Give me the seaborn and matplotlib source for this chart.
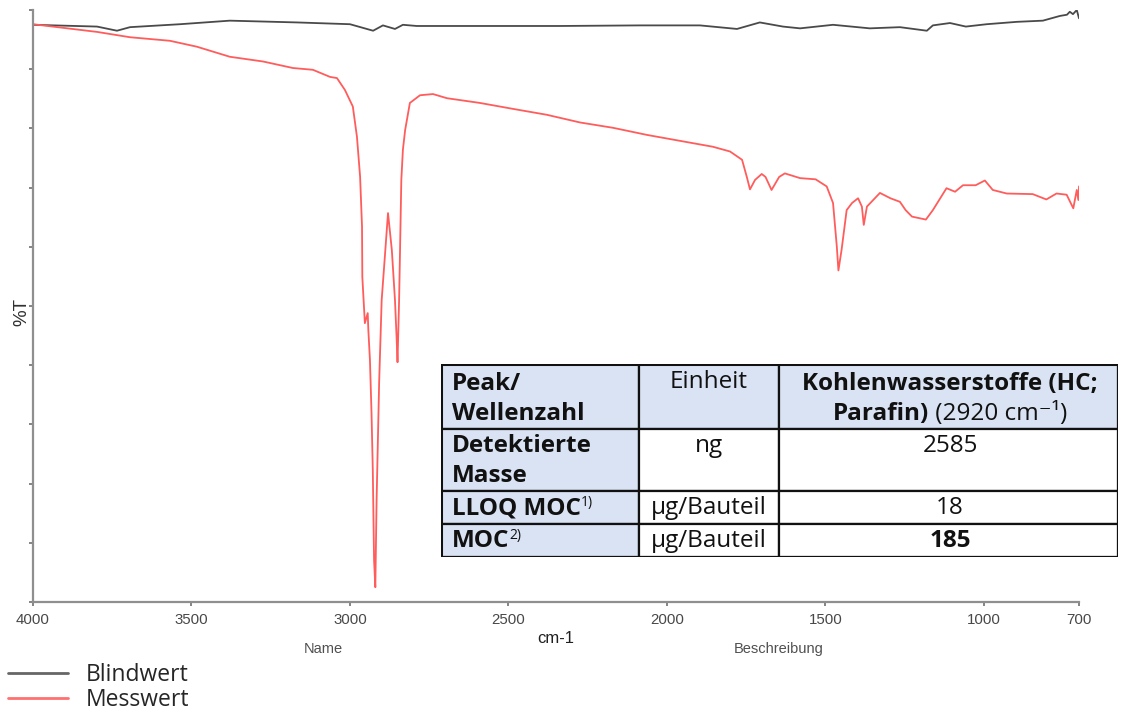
import numpy as np
import pandas as pd
import matplotlib
matplotlib.use("Agg")
import matplotlib.pyplot as plt
import seaborn as sns
from matplotlib.patches import Rectangle
from matplotlib.lines import Line2D

# --- FTIR spectra (wavenumber in cm-1, transmission in %T) ---
blind_wn = [4000, 3798, 3735, 3694, 3536, 3379, 3167, 3000, 2927, 2896, 2858, 2833,
            2789, 2338, 2085, 1896, 1779, 1707, 1634, 1580, 1476, 1360, 1265, 1180,
            1161, 1107, 1057, 991, 896, 814, 760, 738, 729, 719, 707, 700]
blind_T = [97.5, 97.2, 96.5, 97.1, 97.6, 98.2, 97.9, 97.6, 96.5, 97.4, 96.8, 97.5,
           97.3, 97.3, 97.4, 97.4, 96.8, 97.9, 97.2, 96.9, 97.5, 96.9, 97.1, 96.5,
           97.4, 97.8, 97.2, 97.6, 98.0, 98.2, 99.0, 99.2, 99.7, 99.3, 100.0, 98.6]

mess_wn = [4000, 3798, 3694, 3568, 3483, 3379, 3274, 3180, 3117, 3063, 3041, 3016,
           2991, 2978, 2968, 2962, 2961, 2953, 2944, 2942, 2937, 2932, 2928, 2924,
           2920, 2916, 2908, 2900, 2890, 2880, 2868, 2858, 2853, 2850, 2845, 2842,
           2838, 2833, 2826, 2811, 2779, 2738, 2694, 2590, 2486, 2379, 2274, 2170,
           2063, 1959, 1855, 1801, 1763, 1748, 1738, 1722, 1701, 1689, 1670, 1646,
           1628, 1580, 1531, 1496, 1476, 1464, 1459, 1449, 1433, 1416, 1397, 1385,
           1379, 1369, 1328, 1295, 1265, 1247, 1227, 1183, 1161, 1118, 1091, 1066,
           1026, 997, 972, 928, 846, 803, 771, 739, 718, 707, 702, 700]
mess_T = [97.6, 96.3, 95.4, 94.8, 93.8, 92.1, 91.3, 90.2, 89.9, 88.7, 88.5, 86.5,
          83.7, 78.6, 71.8, 63.4, 54.9, 47.1, 48.8, 45.9, 40.9, 31.9, 22.3, 7.1,
          2.5, 17.2, 37.0, 51.0, 58.3, 65.7, 59.5, 51.0, 44.8, 40.5, 51.0, 59.5,
          71.3, 76.4, 79.7, 84.3, 85.6, 85.8, 85.1, 84.3, 83.3, 82.3, 81.0, 80.1,
          78.9, 77.9, 76.9, 76.1, 74.7, 71.8, 69.7, 71.3, 72.3, 71.8, 69.6, 71.8,
          72.4, 71.6, 71.4, 70.2, 67.4, 60.0, 56.0, 59.5, 66.2, 67.4, 68.2, 66.8,
          63.7, 66.8, 69.1, 68.2, 67.6, 66.2, 65.1, 64.6, 66.2, 69.9, 69.3, 70.4,
          70.4, 71.2, 69.6, 69.0, 68.9, 68.0, 69.0, 68.8, 66.5, 69.6, 67.9, 70.2]

series_names = ["Blindwert", "Messwert"]
series_colors = ["#4a4a4a", "#ff5c5c"]

x_ticks = [4000, 3500, 3000, 2500, 2000, 1500, 1000, 700]
y_ticks = list(range(0, 101, 10))

# --- results table ---
col_header = ["Peak/\nWellenzahl", "Einheit", "Kohlenwasserstoffe (HC;\nParafin)"]
peak_label = "(2920 cm⁻¹)"
row_labels = ["Detektierte\nMasse", "LLOQ MOC", "MOC"]
row_marks = [None, "1)", "2)"]
row_units = ["ng", "µg/Bauteil", "µg/Bauteil"]
row_values = ["2585", "18", "185"]

sns.set_style("white")
plt.rcParams["font.family"] = ["Liberation Sans", "DejaVu Sans"]

W, H = 1122, 710
fig = plt.figure(figsize=(W / 100, H / 100), dpi=100)
ax = fig.add_axes([33 / W, 1 - 602 / H, (1079 - 33) / W, (602 - 10) / H])

df = pd.concat([
    pd.DataFrame({"wn": blind_wn, "T": blind_T, "Probe": series_names[0]}),
    pd.DataFrame({"wn": mess_wn, "T": mess_T, "Probe": series_names[1]}),
])
sns.lineplot(data=df, x="wn", y="T", hue="Probe", hue_order=series_names,
             palette=dict(zip(series_names, series_colors)), estimator=None,
             sort=False, linewidth=1.3, legend=False, ax=ax)

ax.set_xlim(4000, 700)
ax.set_ylim(0, 100)
ax.set_xticks(x_ticks)
ax.set_xticklabels([str(t) for t in x_ticks])
ax.set_yticks(y_ticks)
ax.set_yticklabels([])
for s in ["top", "right"]:
    ax.spines[s].set_visible(False)
for s in ["left", "bottom"]:
    ax.spines[s].set_color("#8f8f8f")
    ax.spines[s].set_linewidth(1.6)
ax.tick_params(axis="both", direction="out", length=3, width=1.2, color="#707070",
               labelsize=10.8, labelcolor="#484848", pad=5, left=True, bottom=True)
ax.set_xlabel("cm-1", fontsize=12, labelpad=3, color="#202020")
ax.set_ylabel("%T", fontsize=13.5, color="#303030")
ax.yaxis.set_label_coords(-0.0028, 0.49)

fig.text(323 / W, 1 - 649 / H, "Name", ha="center", va="center", fontsize=10.5, color="#505050")
fig.text(779 / W, 1 - 649 / H, "Beschreibung", ha="center", va="center", fontsize=10.5, color="#505050")

handles = [Line2D([], [], color=c, lw=2) for c in ["#666666", "#ff7070"]]
fig.legend(handles, series_names, loc="upper left", bbox_to_anchor=(8 / W, 1 - 663 / H),
           frameon=False, prop={"family": ["Open Sans", "DejaVu Sans"], "size": 16.5},
           handlelength=2.6, handletextpad=0.78, labelspacing=0.05, borderpad=0,
           borderaxespad=0)

# --- table drawn in pixel coordinates ---
tx0, tx1, ty0, ty1 = 441, 1118, 364, 557
tax = fig.add_axes([tx0 / W, 1 - ty1 / H, (tx1 - tx0) / W, (ty1 - ty0) / H])
tax.set_xlim(tx0, tx1)
tax.set_ylim(ty1, ty0)
tax.axis("off")

col_x = [441, 639, 779, 1118]
row_y = [364, 429, 491, 524, 557]
fill = "#dae3f3"
for r in range(4):
    for c in range(3):
        fc = fill if (r == 0 or c == 0) else "white"
        tax.add_patch(Rectangle((col_x[c], row_y[r]), col_x[c + 1] - col_x[c],
                                row_y[r + 1] - row_y[r], facecolor=fc,
                                edgecolor="#111111", lw=1.6, zorder=1))
tax.add_patch(Rectangle((tx0, ty0), tx1 - tx0, ty1 - ty0, fill=False,
                        edgecolor="#111111", lw=2.2, zorder=2))

tfont = ["Open Sans", "DejaVu Sans"]
fs = 17.5
renderer = fig.canvas.get_renderer()


def runs(x, y, parts, ha="left"):
    """Draw text runs [(text, weight, size, raise_px)] side by side on one baseline."""
    arts = []
    for txt, wt, sz, dy in parts:
        t = tax.text(0, y - dy, txt, fontsize=sz, fontweight=wt, family=tfont,
                     va="baseline", ha="left", color="#111111", zorder=3)
        arts.append(t)
    widths = [t.get_window_extent(renderer).width for t in arts]
    start = x - sum(widths) / 2 if ha == "center" else x
    for t, w in zip(arts, widths):
        t.set_x(start)
        start += w


line_h = 30
# header row
for i, ln in enumerate(col_header[0].split("\n")):
    runs(452, 390 + i * line_h, [(ln, "bold", fs, 0)])
runs(709, 388, [(col_header[1], "normal", fs, 0)], ha="center")
hc1, hc2 = col_header[2].split("\n")
runs(950, 390, [(hc1, "bold", fs, 0)], ha="center")
runs(950, 390 + line_h, [(hc2, "bold", fs, 0), (" " + peak_label, "normal", fs, 0)], ha="center")

# body rows
baselines = [452, 514, 547]
for r in range(3):
    lab_lines = row_labels[r].split("\n")
    for i, ln in enumerate(lab_lines):
        parts = [(ln, "bold", fs, 0)]
        if row_marks[r] and i == len(lab_lines) - 1:
            parts.append((row_marks[r], "normal", 10, 8))
        runs(452, baselines[r] + i * line_h, parts)
    runs(709, baselines[r], [(row_units[r], "normal", fs, 0)], ha="center")
    runs(950, baselines[r], [(row_values[r], "bold" if r == 2 else "normal", fs, 0)], ha="center")

fig.savefig("out.png", dpi=100)
